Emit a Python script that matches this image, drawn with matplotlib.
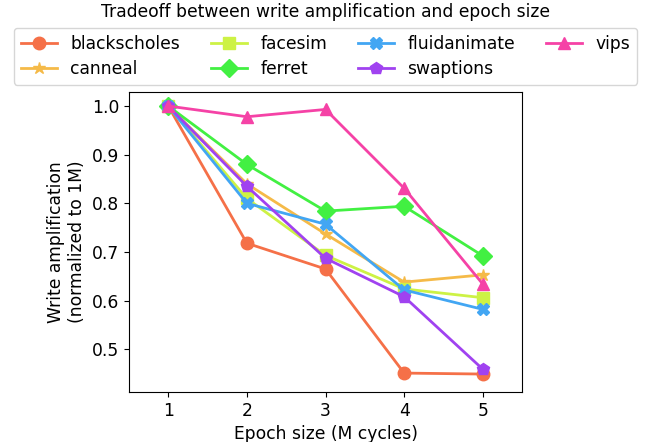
import matplotlib
matplotlib.use("Agg")
import matplotlib.pyplot as plt

epochs = [1, 2, 3, 4, 5]

names = ["blackscholes", "canneal", "facesim", "ferret",
         "fluidanimate", "swaptions", "vips"]
blackscholes = [1.0, 0.718, 0.665, 0.451, 0.449]
canneal = [1.0, 0.840, 0.737, 0.638, 0.653]
facesim = [1.0, 0.810, 0.693, 0.624, 0.606]
ferret = [1.0, 0.880, 0.784, 0.794, 0.692]
fluidanimate = [1.0, 0.800, 0.757, 0.622, 0.582]
swaptions = [1.0, 0.835, 0.687, 0.608, 0.459]
vips = [1.0, 0.978, 0.993, 0.831, 0.634]

series = [blackscholes, canneal, facesim, ferret, fluidanimate, swaptions, vips]
colors = ["#F57048", "#F5BA48", "#CDF245", "#42F042", "#42A6F3", "#A042F0", "#F542A6"]
markers = ["o", "*", "s", "D", "X", "p", "^"]

plt.rcParams["font.size"] = 12.3

fig = plt.figure(figsize=(6.51, 4.42), dpi=100)
ax = fig.add_axes([0.198, 0.113, 0.604, 0.679])

for name, vals, c, m in zip(names, series, colors, markers):
    ax.plot(epochs, vals, color=c, marker=m, markersize=9, linewidth=2, label=name)

ax.set_xlim(0.5, 5.5)
ax.set_ylim(0.412, 1.029)
ax.set_xticks(epochs)
ax.set_yticks([0.5, 0.6, 0.7, 0.8, 0.9, 1.0])
ax.set_xlabel("Epoch size (M cycles)")
ax.set_ylabel("Write amplification\n(normalized to 1M)")

fig.text(0.5, 1 - 12 / 442, "Tradeoff between write amplification and epoch size",
         ha="center", va="center")

# legend box sits under the title, spans nearly the whole figure
fig.legend(loc="upper center", bbox_to_anchor=(0.5, 1 - 28 / 442), ncol=4,
           columnspacing=1.8, handlelength=2.1, borderaxespad=0.0,
           labelspacing=0.4)

fig.savefig("out.png", dpi=100)
